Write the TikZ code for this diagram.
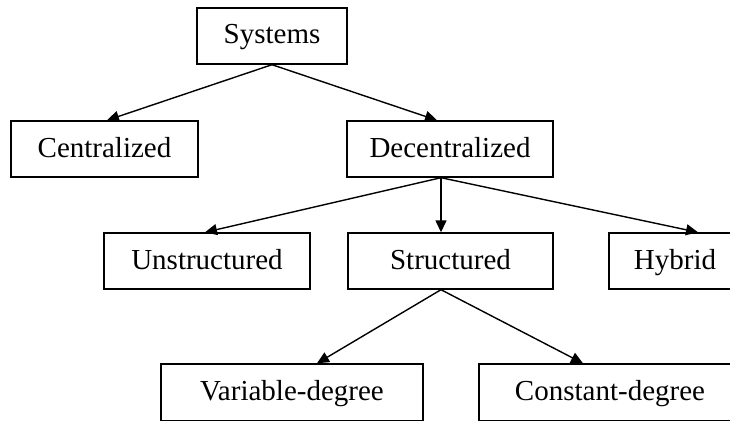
\documentclass[tikz,border=0pt]{standalone}
\usepackage{fontspec}
\setmainfont{Liberation Serif}
\usetikzlibrary{arrows.meta}
\begin{document}
\begin{tikzpicture}[x=1pt,y=-1pt,
  box/.style={draw,line width=1.4pt,minimum height=56pt,inner sep=0pt,
    text height=21pt,text depth=5pt,
    font=\fontsize{29}{34}\selectfont},
  arr/.style={line width=1.4pt,-{Triangle[length=12pt,width=11pt]}}]
\useasboundingbox (0,0) rectangle (730,420);
\clip (0,0) rectangle (730,420);
\node[box,minimum width=150pt] (sys) at (272,36) {Systems};
\node[box,minimum width=187pt] (cen) at (104.5,149) {Centralized};
\node[box,minimum width=206pt] (dec) at (450,149) {Decentralized};
\node[box,minimum width=206pt] (uns) at (207,261) {Unstructured};
\node[box,minimum width=205pt] (str) at (450.5,261) {Structured};
\node[box,minimum width=132pt] (hyb) at (675,261) {Hybrid};
\node[box,minimum width=262pt,minimum height=57pt] (var) at (292,392.5) {Variable-degree};
\node[box,minimum width=262pt,minimum height=57pt] (con) at (610,392.5) {Constant-degree};
\draw[arr] (sys.south) -- ([xshift=2.5pt]cen.north);
\draw[arr] (sys.south) -- ([xshift=-13pt]dec.north);
\draw[arr] ([xshift=-9pt]dec.south) -- ([xshift=-2pt]uns.north);
\draw[arr] ([xshift=-9pt]dec.south) -- ([xshift=-9.5pt]str.north);
\draw[arr] ([xshift=-9pt]dec.south) -- ([xshift=23pt]hyb.north);
\draw[arr] ([xshift=-9.5pt]str.south) -- ([xshift=25pt]var.north);
\draw[arr] ([xshift=-9.5pt]str.south) -- ([xshift=-27pt]con.north);
\end{tikzpicture}
\end{document}
